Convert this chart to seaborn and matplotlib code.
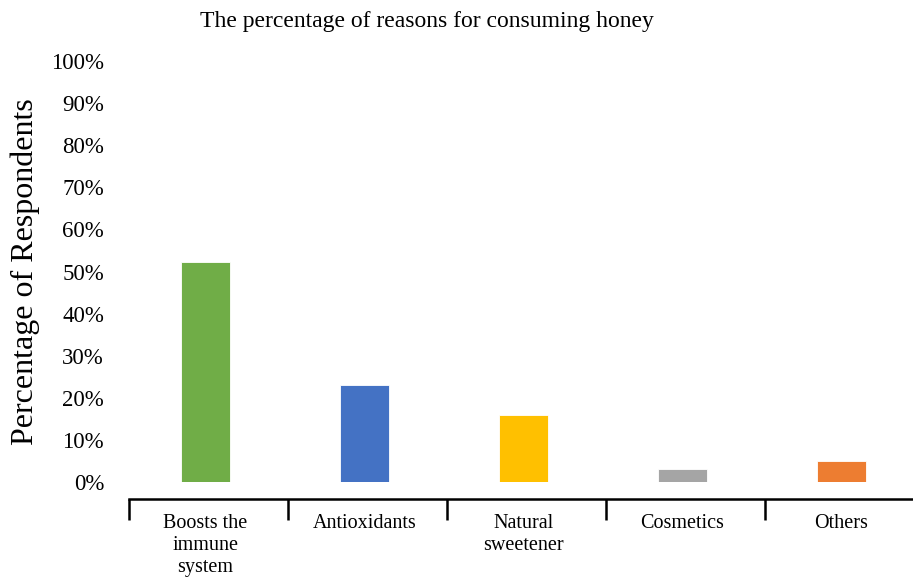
import matplotlib
matplotlib.use("Agg")
import matplotlib.pyplot as plt
import seaborn as sns
import pandas as pd

# data
categories = ["Boosts the\nimmune\nsystem", "Antioxidants", "Natural\nsweetener", "Cosmetics", "Others"]
percentages = [52.3, 23.0, 15.8, 3.2, 5.1]
bar_colors = ["#70AD47", "#4472C4", "#FFC000", "#A5A5A5", "#ED7D31"]
y_ticks = list(range(0, 101, 10))
y_tick_labels = [f"{t}%" for t in y_ticks]

df = pd.DataFrame({"Reason": categories, "Percent": percentages})

sns.set_style("white")
plt.rcParams["font.family"] = ["Liberation Serif", "DejaVu Serif"]
plt.rcParams["text.color"] = "black"
plt.rcParams["axes.labelcolor"] = "black"
plt.rcParams["xtick.color"] = "black"
plt.rcParams["ytick.color"] = "black"

fig = plt.figure(figsize=(9.13, 5.8), dpi=100)
ax = fig.add_axes([129 / 913, 1 - 482 / 580, 784 / 913, 421 / 580])

sns.barplot(data=df, x="Reason", y="Percent", hue="Reason", palette=bar_colors,
            legend=False, width=0.31, saturation=1, edgecolor="white", linewidth=0.6, ax=ax)

ax.set_xlim(-0.48, 4.45)
ax.set_ylim(0, 100)
ax.set_yticks(y_ticks)
ax.set_yticklabels(y_tick_labels)
ax.tick_params(axis="y", left=False, length=0, pad=18, labelsize=16.5, labelcolor="black")

ax.set_xticks(range(len(categories)))
ax.set_xticklabels(categories, linespacing=1.32)
ax.tick_params(axis="x", which="major", bottom=True, length=0, pad=11, labelsize=14.5, labelcolor="black")
ax.set_xticks([i + 0.52 for i in range(-1, 4)], minor=True)
ax.tick_params(axis="x", which="minor", bottom=True, length=15, width=1.8, color="black", direction="out")

for s in ["left", "top", "right"]:
    ax.spines[s].set_visible(False)
ax.spines["bottom"].set_position(("outward", 12))
ax.spines["bottom"].set_linewidth(1.8)
ax.spines["bottom"].set_color("black")

ax.set_xlabel("")
ax.set_ylabel("Percentage of Respondents", fontsize=23, labelpad=8, color="black")
fig.text(427 / 913, 1 - 22 / 580, "The percentage of reasons for consuming honey",
         ha="center", va="center", fontsize=17, color="black")

fig.savefig("out.png", dpi=100)
